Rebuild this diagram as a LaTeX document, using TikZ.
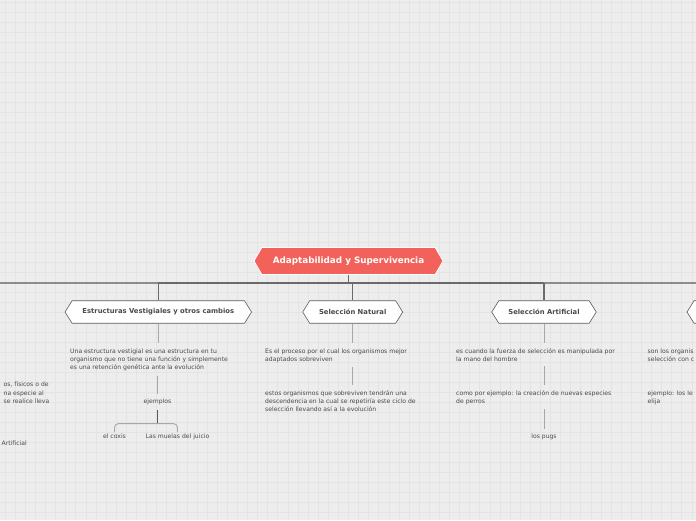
\documentclass[tikz,border=0pt]{standalone}
\usepackage{fontspec}
\setmainfont{DejaVu Sans}
\usetikzlibrary{shapes.symbols,calc}
\definecolor{bg}{HTML}{EDEDED}
\definecolor{gridc}{HTML}{E4E4E4}
\definecolor{rootc}{HTML}{F2625B}
\definecolor{txt}{HTML}{4A4A4A}
\definecolor{bardark}{HTML}{6A6A6A}
\definecolor{barlight}{HTML}{8C8C8C}
\definecolor{conn}{HTML}{A8A8A8}
\definecolor{nodeline}{HTML}{5A5A5A}
\tikzset{
  rootbox/.style={signal, signal to=west and east, signal pointer angle=120,
    fill=rootc, draw=white, line width=0.8pt, minimum width=189pt, minimum height=27pt,
    inner sep=0pt, text=white, font=\fontsize{8.8}{10}\selectfont\bfseries},
  topicbox/.style={signal, signal to=west and east, signal pointer angle=116,
    fill=white, draw=nodeline, line width=0.6pt, minimum height=22.5pt,
    inner sep=0pt, text=txt, font=\fontsize{6.8}{8}\selectfont\bfseries},
  para/.style={anchor=north west, inner sep=0pt, align=left, text=txt,
    font=\fontsize{6.1}{8.2}\selectfont},
  word/.style={anchor=north, inner sep=0pt, text=txt, font=\fontsize{6.1}{8.2}\selectfont},
  bar/.style={line width=1.3pt},
  drop/.style={draw=bardark, line width=1.1pt},
  lconn/.style={draw=conn, line width=0.9pt, shorten <=4.5pt, shorten >=5pt},
  dconn/.style={draw=nodeline, line width=1pt},
  bracec/.style={draw=conn, line width=0.9pt, rounded corners=4pt},
}
\begin{document}
\begin{tikzpicture}[x=1pt,y=-1pt]
\path[use as bounding box, fill=bg] (0,0) rectangle (696,520);
\begin{scope}
\clip (0,0) rectangle (696,520);
\foreach \gx in {0,...,69} \draw[gridc, line width=0.6pt] (5+10.1*\gx,0) -- (5+10.1*\gx,520);
\foreach \gy in {0,...,52} \draw[gridc, line width=0.6pt] (0,2+10*\gy) -- (696,2+10*\gy);

% root
\node[rootbox] (root) at (348.5,261) {Adaptabilidad y Supervivencia};

% topics
\node[topicbox, minimum width=64pt] (left) at (-40,312) {};
\node[topicbox, minimum width=186.5pt] (est) at (158.3,312) {Estructuras Vestigiales y otros cambios};
\node[topicbox, minimum width=100pt] (nat) at (352.7,312) {Selección Natural};
\node[topicbox, minimum width=104.5pt] (art) at (544,312) {Selección Artificial};
\node[topicbox, minimum width=110pt] (right) at (742,312) {};

% bar
\coordinate (barL) at (0,283);
\coordinate (barR) at (696,283);
\draw[drop] (root.south) -- (root.south |- barL);
\draw[bar, barlight] (barL) -- (est.north |- barL);
\draw[bar, bardark] (est.north |- barL) -- (art.north |- barL);
\draw[bar, barlight] (art.north |- barL) -- (barR);
\draw[drop] (est.north |- barL) -- (est.north);
\draw[drop] (nat.north |- barL) -- (nat.north);
\draw[drop] (art.north |- barL) -- (art.north);

% Estructuras column
\node[para] (estA) at (70,348.4) {Una estructura vestigial es una estructura en tu\\organismo que no tiene una función y simplemente\\es una retención genética ante la evolución};
\node[word] (ej) at (157.5,399) {ejemplos};
\node[word] (coxis) at (114.5,433.6) {el coxis};
\node[word] (muelas) at (177.5,433.6) {Las muelas del juicio};
\draw[draw=conn, line width=0.9pt, shorten >=5pt] (est.south) -- (est.south |- estA.north);
\draw[lconn] (ej.north |- estA.south) -- (ej.north);
\coordinate (bt) at ($(coxis.north)+(0,-10)$);
\draw[dconn, shorten <=5pt] (ej.south) -- (ej.south |- bt);
\draw[bracec] ($(coxis.north)+(0,-1.5)$) -- (bt) -- (bt -| muelas.north) -- ($(muelas.north)+(0,-1.5)$);

% Selección Natural column
\node[para] (natA) at (265,348.4) {Es el proceso por el cual los organismos mejor\\adaptados sobreviven};
\node[para] (natB) at (265,390.2) {estos organismos que sobreviven tendrán una\\descendencia en la cual se repetiría este ciclo de\\selección llevando así a la evolución};
\draw[draw=conn, line width=0.9pt, shorten >=5pt] (nat.south) -- (nat.south |- natA.north);
\draw[lconn] (nat.south |- natA.south) -- (nat.south |- natB.north);

% Selección Artificial column
\node[para] (artA) at (456,348.4) {es cuando la fuerza de selección es manipulada por\\la mano del hombre};
\node[para] (artB) at (456,390.2) {como por ejemplo: la creación de nuevas especies\\de perros};
\node[word] (pugs) at (544,433.6) {los pugs};
\draw[draw=conn, line width=0.9pt, shorten >=5pt] (art.south) -- (art.south |- artA.north);
\draw[lconn] (art.south |- artA.south) -- (art.south |- artB.north);
\draw[lconn] (art.south |- artB.south) -- (pugs.north);

% right partial column
\node[para] (rA) at (647.5,348.4) {son los organis\\selección con c};
\node[para] (rB) at (647.5,390.2) {ejemplo: los le\\elija};

% left partial column
\node[para, anchor=north east] (lA) at (49.5,381.8) {os, físicos o de\\na especie al\\se realice lleva};
\node[para] (lB) at (1.5,440.8) {Artificial};
\end{scope}
\end{tikzpicture}
\end{document}
